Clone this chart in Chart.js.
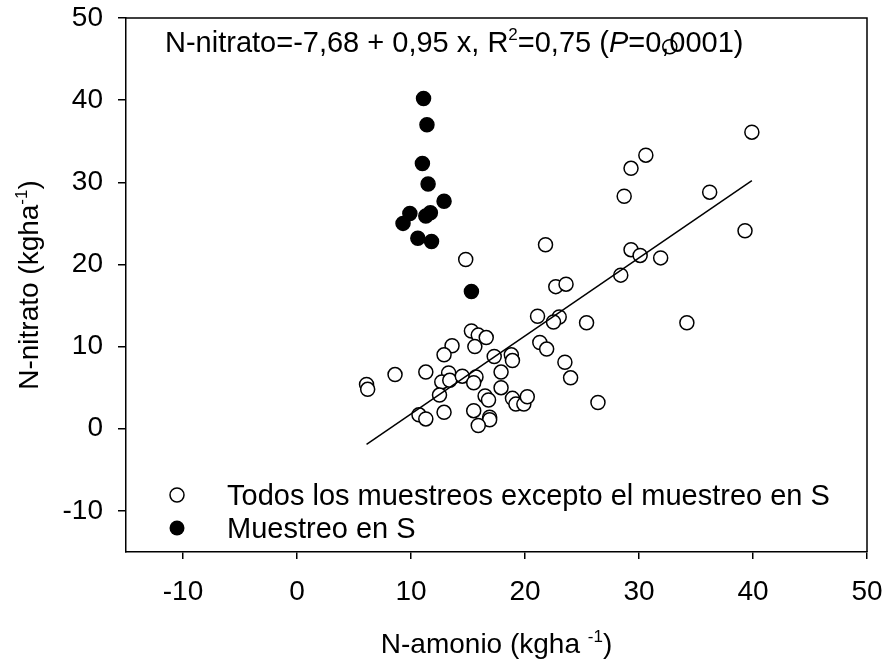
<!DOCTYPE html>
<html>
<head>
<meta charset="utf-8">
<script src="https://cdn.jsdelivr.net/npm/chart.js@4.4.1/dist/chart.umd.min.js"></script>
<style>
  html, body { margin: 0; padding: 0; background: #fff; overflow: hidden; }
  #myChart { display: block; }
</style>
</head>
<body>
<canvas id="myChart" width="883" height="662"></canvas>
<script>
// open circles: all samplings except the S one
var openX = [14.8, 21.8, 22.7, 23.6, 21.1, 23.0, 22.5, 15.3, 15.9, 16.6, 15.6, 13.6, 12.9, 17.3, 18.8, 18.9,
             21.3, 21.9, 23.5, 24.0, 6.1, 6.2, 8.6, 11.3, 13.3, 12.7, 13.4, 14.5, 15.7, 15.5, 17.9, 17.9,
             12.5, 16.5, 16.8, 18.9, 19.2, 19.9, 20.2, 10.7, 11.3, 12.9, 15.5, 16.9, 16.9, 15.9,
             39.9, 30.6, 29.3, 28.7, 36.2, 39.3, 29.3, 30.1, 31.9, 28.4, 25.4, 34.2, 26.4, 32.7];
var openY = [20.6, 22.4, 17.3, 17.6, 13.7, 13.6, 13.0, 11.9, 11.4, 11.1, 10.0, 10.1, 9.0, 8.8, 9.0, 8.3,
             10.5, 9.7, 8.1, 6.2, 5.4, 4.8, 6.6, 6.9, 6.8, 5.7, 5.9, 6.4, 6.3, 5.6, 6.9, 5.0,
             4.1, 4.0, 3.5, 3.7, 3.0, 3.0, 3.9, 1.7, 1.2, 2.0, 2.2, 1.4, 1.1, 0.4,
             36.1, 33.3, 31.7, 28.3, 28.8, 24.1, 21.8, 21.1, 20.8, 18.7, 12.9, 12.9, 3.2, 46.5];

// filled circles: sampling in S
var solidX = [11.1, 11.4, 11.0, 11.5, 12.9, 9.9, 9.3, 11.3, 11.7, 10.6, 11.8, 15.3];
var solidY = [40.2, 37.0, 32.3, 29.8, 27.7, 26.2, 25.0, 25.9, 26.3, 23.2, 22.8, 16.7];

// fitted line end points
var fitX = [6.1, 39.9];
var fitY = [-1.9, 30.2];

var xTicks = [-10, 0, 10, 20, 30, 40, 50];
var yTicks = [-10, 0, 10, 20, 30, 40, 50];

var legendLabels = ['Todos los muestreos excepto el muestreo en S', 'Muestreo en S'];

var FONT = '"Liberation Sans", Arial, sans-serif';

function toPoints(xs, ys) {
    var pts = [];
    for (var i = 0; i < xs.length; i++) {
        pts.push({ x: xs[i], y: ys[i] });
    }
    return pts;
}

// draws a run of text pieces, some of them superscript or italic
function drawRich(ctx, x, y, parts, size) {
    var cx = x;
    parts.forEach(function (p) {
        var s = p.sup ? Math.round(size * 0.6) : size;
        ctx.font = (p.italic ? 'italic ' : '') + s + 'px ' + FONT;
        ctx.fillText(p.t, cx, p.sup ? y - size * 0.4 : y);
        cx += ctx.measureText(p.t).width;
    });
    return cx - x;
}

function richWidth(ctx, parts, size) {
    var w = 0;
    parts.forEach(function (p) {
        var s = p.sup ? Math.round(size * 0.6) : size;
        ctx.font = (p.italic ? 'italic ' : '') + s + 'px ' + FONT;
        w += ctx.measureText(p.t).width;
    });
    return w;
}

var extras = {
    id: 'extras',
    afterDatasetsDraw: function (chart) {
        var ctx = chart.ctx;
        var a = chart.chartArea;
        ctx.save();
        ctx.fillStyle = '#000';
        ctx.strokeStyle = '#000';
        ctx.textBaseline = 'alphabetic';
        ctx.textAlign = 'left';

        // frame top and right
        ctx.lineWidth = 1.5;
        ctx.beginPath();
        ctx.moveTo(a.left, a.top);
        ctx.lineTo(a.right, a.top);
        ctx.lineTo(a.right, a.bottom);
        ctx.stroke();

        // equation
        drawRich(ctx, 165, 52, [
            { t: 'N-nitrato=-7,68 + 0,95 x, R' },
            { t: '2', sup: true },
            { t: '=0,75 (' },
            { t: 'P', italic: true },
            { t: '=0,0001)' }
        ], 29);

        // legend
        ctx.lineWidth = 1.5;
        ctx.beginPath();
        ctx.arc(177, 495, 7, 0, Math.PI * 2);
        ctx.fillStyle = '#fff';
        ctx.fill();
        ctx.stroke();
        ctx.beginPath();
        ctx.arc(177, 528, 7.5, 0, Math.PI * 2);
        ctx.fillStyle = '#000';
        ctx.fill();
        ctx.font = '29px ' + FONT;
        ctx.fillText(legendLabels[0], 227, 505);
        ctx.fillText(legendLabels[1], 227, 538);

        // x title
        var xt = [{ t: 'N-amonio (kgha ' }, { t: '-1', sup: true }, { t: ')' }];
        var xw = richWidth(ctx, xt, 28);
        drawRich(ctx, (a.left + a.right) / 2 - xw / 2, 653, xt, 28);

        // y title
        var yt = [{ t: 'N-nitrato (kgha' }, { t: '-1', sup: true }, { t: ')' }];
        var yw = richWidth(ctx, yt, 28);
        ctx.translate(38, (a.top + a.bottom) / 2);
        ctx.rotate(-Math.PI / 2);
        drawRich(ctx, -yw / 2, 0, yt, 28);
        ctx.restore();
    }
};

var ctx = document.getElementById('myChart').getContext('2d');

window.myChart = new Chart(ctx, {
    type: 'scatter',
    data: {
        datasets: [
            {
                label: 'ajuste',
                type: 'line',
                data: toPoints(fitX, fitY),
                borderColor: '#000',
                borderWidth: 1.5,
                pointRadius: 0,
                fill: false
            },
            {
                label: legendLabels[1],
                data: toPoints(solidX, solidY),
                backgroundColor: '#000',
                borderColor: '#000',
                borderWidth: 1.5,
                pointRadius: 7
            },
            {
                label: legendLabels[0],
                data: toPoints(openX, openY),
                backgroundColor: '#fff',
                borderColor: '#000',
                borderWidth: 1.5,
                pointRadius: 7
            }
        ]
    },
    options: {
        responsive: false,
        animation: false,
        devicePixelRatio: 1,
        layout: { padding: { top: 18, right: 16, left: 0, bottom: 0 } },
        plugins: {
            legend: { display: false },
            tooltip: { enabled: false }
        },
        scales: {
            x: {
                type: 'linear',
                min: -15,
                max: 50,
                afterBuildTicks: function (scale) {
                    scale.ticks = xTicks.map(function (v) { return { value: v }; });
                },
                afterFit: function (scale) {
                    scale.height = 110;
                    scale.paddingLeft = 0;
                    scale.paddingRight = 0;
                },
                grid: { drawOnChartArea: false, drawTicks: true, tickLength: 7, color: '#000', lineWidth: 1.5 },
                border: { display: true, color: '#000', width: 1.5 },
                ticks: { color: '#000', padding: 16, maxRotation: 0, font: { family: FONT, size: 28 } }
            },
            y: {
                type: 'linear',
                min: -15,
                max: 50,
                afterBuildTicks: function (scale) {
                    scale.ticks = yTicks.map(function (v) { return { value: v }; });
                },
                afterFit: function (scale) {
                    scale.width = 126;
                    scale.paddingTop = 0;
                    scale.paddingBottom = 0;
                },
                grid: { drawOnChartArea: false, drawTicks: true, tickLength: 8, color: '#000', lineWidth: 1.5 },
                border: { display: true, color: '#000', width: 1.5 },
                ticks: { color: '#000', padding: 15, font: { family: FONT, size: 28 } }
            }
        }
    },
    plugins: [extras]
});
</script>
</body>
</html>
